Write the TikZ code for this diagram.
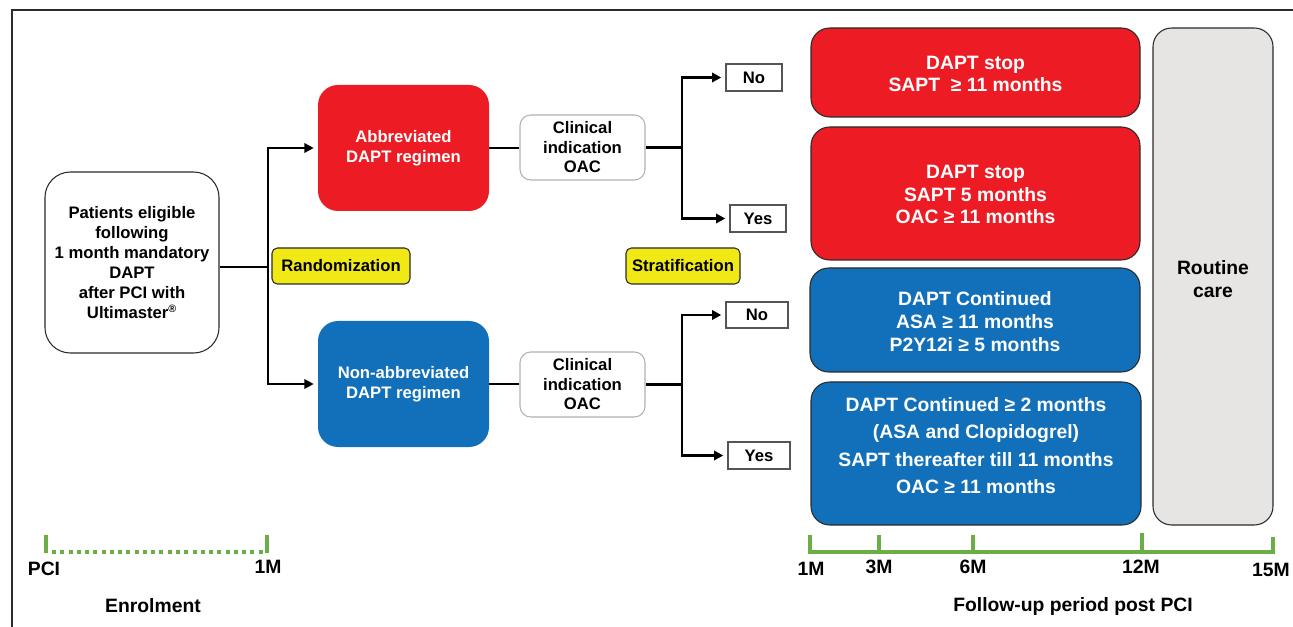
\documentclass[tikz,border=0pt]{standalone}
\usepackage{fontspec}
\setmainfont{Liberation Sans}
\usetikzlibrary{arrows.meta}
\definecolor{cred}{HTML}{ED1C24}
\definecolor{cblue}{HTML}{1170B9}
\definecolor{cyel}{HTML}{F0E916}
\definecolor{cgray}{HTML}{E6E5E3}
\definecolor{cgreen}{HTML}{6CAE46}
\definecolor{cedge}{HTML}{2B2B2B}
\newcommand\bx[7]{\node[#6, minimum width={(#4-#2)*0.75pt}, minimum height={(#5-#3)*0.75pt}] (#1) at ({(#2+#4)/2},{(#3+#5)/2}) {#7};}
\tikzset{
  base/.style={inner sep=0pt, align=center, font=\bfseries\fontsize{12.5}{15}\selectfont},
  regred/.style={base, fill=cred, text=white, rounded corners=15pt},
  regblue/.style={base, fill=cblue, text=white, rounded corners=15pt},
  pat/.style={base, draw=cedge, line width=0.8pt, fill=white, rounded corners=19pt},
  clin/.style={base, draw=black!30, line width=0.8pt, fill=white, rounded corners=8pt, font=\bfseries\fontsize{12.5}{14.6}\selectfont},
  yel/.style={base, draw=cedge, line width=0.8pt, fill=cyel, rounded corners=4pt},
  yn/.style={base, draw=cedge!80, line width=1pt, fill=white},
  outred/.style={inner sep=0pt, draw=cedge, line width=0.8pt, fill=cred, rounded corners=14pt},
  outblue/.style={inner sep=0pt, draw=cedge, line width=0.8pt, fill=cblue, rounded corners=14pt},
  outgray/.style={inner sep=0pt, draw=cedge, line width=0.8pt, fill=cgray, rounded corners=14pt},
  outtxt/.style={inner sep=0pt, align=center, text=white, font=\bfseries\fontsize{14.5}{17}\selectfont},
  lbl/.style={inner sep=0pt, align=center, font=\bfseries\fontsize{14.5}{17}\selectfont},
  conn/.style={line width=2.2pt, black},
  arr/.style={conn, -{Triangle[length=7pt,width=7pt]}, shorten >=3pt},
  tl/.style={line width=3pt, cgreen},
}
\begin{document}
\begin{tikzpicture}[x=0.75pt,y=-0.75pt]
\useasboundingbox (0,0) rectangle (1293,627);
% frame
\draw[line width=1.6pt, cedge] (12,627) -- (12,10) -- (1293,10);

% left part
\bx{pat}{45}{172}{219}{353}{pat}{Patients eligible\\following\\1 month mandatory\\DAPT\\after PCI with\\Ultimaster\textsuperscript{\fontsize{8}{8}\selectfont ®}}
\bx{reg1}{318}{85}{489}{211}{regred}{Abbreviated\\DAPT regimen}
\bx{reg2}{318}{321}{489}{447}{regblue}{Non-abbreviated\\DAPT regimen}
\bx{rand}{272}{248}{410}{284}{yel}{Randomization}
\bx{strat}{626}{248}{740}{284}{yel}{Stratification}
\bx{clin1}{520}{115}{645}{180}{clin}{Clinical\\indication\\OAC}
\bx{clin2}{520}{352}{645}{417}{clin}{Clinical\\indication\\OAC}
\bx{no1}{726}{64}{782}{91}{yn}{No}
\bx{yes1}{730}{205}{786}{232}{yn}{Yes}
\bx{no2}{726}{302}{788}{328}{yn}{No}
\bx{yes2}{728}{442}{790}{469}{yn}{Yes}

% connectors
\coordinate (J1) at (268,267);
\draw[conn] (pat.east |- J1) -- (J1);
\draw[arr] (J1) |- (reg1.west);
\draw[arr] (J1) |- (reg2.west);
\draw[conn] (reg1.east) -- (clin1.west |- reg1.east);
\draw[conn] (reg2.east) -- (clin2.west |- reg2.east);
\coordinate (J2) at (682,147.5);
\coordinate (J3) at (682,384.5);
\draw[conn] (clin1.east) -- (J2);
\draw[conn] (clin2.east) -- (J3);
\draw[arr] (J2) |- (no1.west);
\draw[arr] (J2) |- (yes1.west);
\draw[arr] (J3) |- (no2.west);
\draw[arr] (J3) |- (yes2.west);

% outcome boxes
\bx{o1}{811}{28}{1140}{117}{outred}{}
\bx{o2}{811}{127}{1140}{260}{outred}{}
\bx{o3}{810}{268}{1140}{372}{outblue}{}
\bx{o4}{811}{382}{1141}{525}{outblue}{}
\bx{rc}{1153}{28}{1273}{525}{outgray}{}
\node[outtxt] (t1) at ([yshift=-1.2pt]o1.center) {DAPT stop\\SAPT \ ≥ 11 months};
\node[outtxt] (t2) at ([yshift=-0.8pt]o2.center) {DAPT stop\\SAPT 5 months\\OAC ≥ 11 months};
\node[outtxt] (t3) at ([yshift=-1.2pt]o3.center) {DAPT Continued\\ASA ≥ 11 months\\P2Y12i ≥ 5 months};
\node[outtxt, font=\bfseries\fontsize{14.5}{20.6}\selectfont] (t4) at (976,445.5) {DAPT Continued ≥ 2 months\\(ASA and Clopidogrel)\\SAPT thereafter till 11 months\\OAC ≥ 11 months};
\node[lbl] (t5) at (1213,279) {Routine\\care};

% enrolment timeline
\draw[tl] (46,535) -- (46,553);
\draw[tl] (267,535) -- (267,553);
\draw[tl, dash pattern=on 3pt off 3.2pt] (52,552) -- (264,552);
\node[lbl] (pci) at (44,569) {PCI};
\node[lbl] (m1a) at (268,567) {1M};
\node[lbl] (enr) at (153,606) {Enrolment};

% follow-up timeline
\draw[tl] (810,535) -- (810,552) -- (1273,552) -- (1273,537);
\draw[tl] (879,535) -- (879,552);
\draw[tl] (973,535) -- (973,552);
\draw[tl] (1142,533) -- (1142,552);
\node[lbl] (m1b) at (811,569) {1M};
\node[lbl] (m3) at (879,567) {3M};
\node[lbl] (m6) at (973,567) {6M};
\node[lbl] (m12) at (1141,567) {12M};
\node[lbl] (m15) at (1271,570) {15M};
\node[lbl] (fu) at (1073,606) {Follow-up period post PCI};
\end{tikzpicture}
\end{document}
